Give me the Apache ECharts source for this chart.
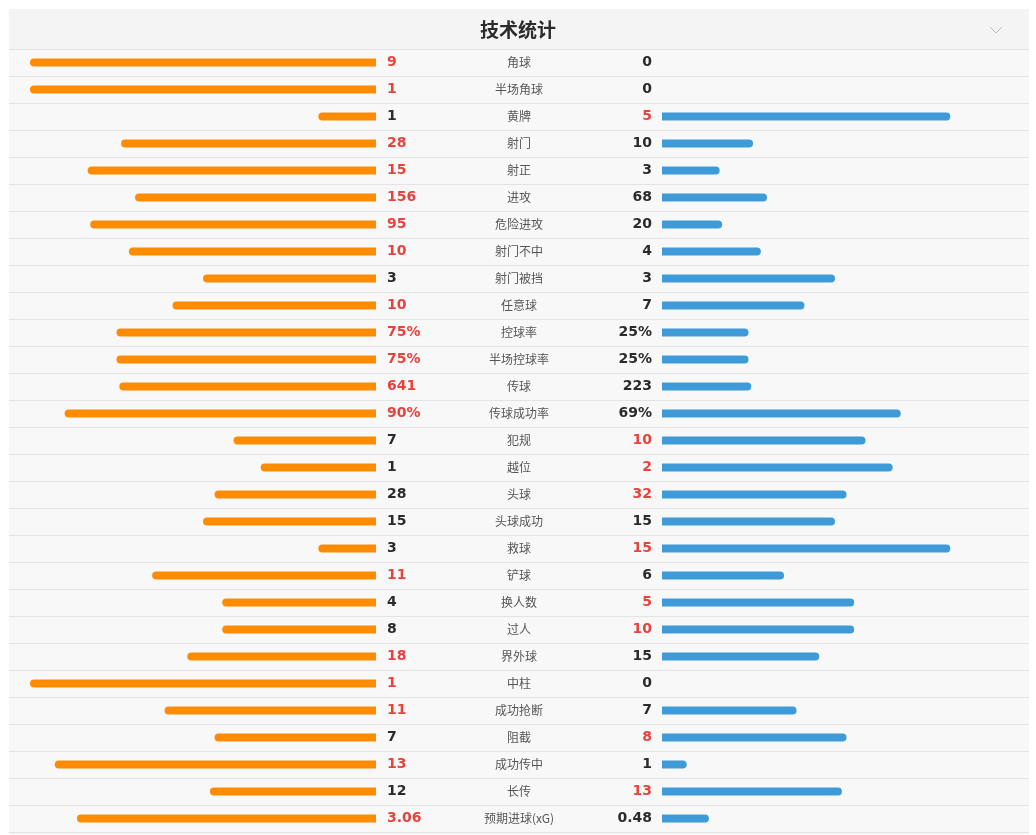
<!DOCTYPE html>
<html>
<head>
<meta charset="utf-8">
<script src="https://cdn.jsdelivr.net/npm/echarts@6/dist/echarts.min.js"></script>
<style>
  html, body { margin: 0; padding: 0; background: #fff; }
  #stats_chart { width: 1036px; height: 835px; }
</style>
</head>
<body>
<div id="stats_chart"></div>
<script>
///////////////////////////////////////////////////
// Match data
///////////////////////////////////////////////////
var statNames = ['角球', '半场角球', '黄牌', '射门', '射正', '进攻', '危险进攻', '射门不中', '射门被挡', '任意球',
  '控球率', '半场控球率', '传球', '传球成功率', '犯规', '越位', '头球', '头球成功', '救球', '铲球',
  '换人数', '过人', '界外球', '中柱', '成功抢断', '阻截', '成功传中', '长传', '预期进球(xG)'];
var homeValues = [9, 1, 1, 28, 15, 156, 95, 10, 3, 10, 75, 75, 641, 90, 7, 1, 28, 15, 3, 11, 4, 8, 18, 1, 11, 7, 13, 12, 3.06];
var awayValues = [0, 0, 5, 10, 3, 68, 20, 4, 3, 7, 25, 25, 223, 69, 10, 2, 32, 15, 15, 6, 5, 10, 15, 0, 7, 8, 1, 13, 0.48];
// rows whose values are already percentages
var percentStats = ['控球率', '半场控球率', '传球成功率'];

///////////////////////////////////////////////////
// Derived bar shares
///////////////////////////////////////////////////
function isPercent(i) { return percentStats.indexOf(statNames[i]) >= 0; }
function share(i, side) {
  var h = homeValues[i], a = awayValues[i];
  var v = side === 'home' ? h : a;
  if (isPercent(i)) return v / 100;
  return h + a === 0 ? 0 : v / (h + a);
}
function fmt(i, v) { return isPercent(i) ? v + '%' : String(v); }

var homeShare = statNames.map(function (n, i) { return share(i, 'home'); });
var awayShare = statNames.map(function (n, i) { return share(i, 'away'); });

var RED = '#e8423c', DARK = '#2b2b2b';
function valueColor(i, side) {
  var h = homeValues[i], a = awayValues[i];
  if (h === a) return DARK;
  if (side === 'home') return h > a ? RED : DARK;
  return a > h ? RED : DARK;
}

var gridTop = 49, gridHeight = 783;
var idx = statNames.map(function (n, i) { return String(i); });

var option = {
  backgroundColor: '#ffffff',
  animation: false,
  title: {
    text: '技术统计',
    left: 'center',
    top: 15,
    textStyle: { fontSize: 19, fontWeight: 'bold', color: '#2b2b2b', fontFamily: 'Noto Sans CJK SC' }
  },
  graphic: [
    { type: 'rect', z: -10, shape: { x: 9, y: 9, width: 1020, height: 826 }, style: { fill: '#f8f8f8' } },
    { type: 'rect', z: -9, shape: { x: 9, y: 9, width: 1020, height: 40 }, style: { fill: '#f4f4f4' } },
    { type: 'polyline', z: 5, shape: { points: [[990, 27], [996, 33], [1002, 27]] },
      style: { stroke: '#bbbbbb', lineWidth: 1, fill: null } }
  ],
  grid: [
    // full-width grid: row separators and centred stat names
    { left: 9, width: 1020, top: gridTop, height: gridHeight },
    // home bars
    { left: 30, width: 346, top: gridTop, height: gridHeight },
    // away bars
    { left: 662, width: 346, top: gridTop, height: gridHeight }
  ],
  xAxis: [
    { gridIndex: 0, type: 'value', min: 0, max: 1, show: false },
    { gridIndex: 1, type: 'value', min: 0, max: 1, inverse: true, show: false },
    { gridIndex: 2, type: 'value', min: 0, max: 1, show: false }
  ],
  yAxis: [
    {
      gridIndex: 0, type: 'category', data: idx, inverse: true,
      axisLine: { show: false }, axisTick: { show: false },
      splitLine: { show: true, lineStyle: { color: '#e3e3e3', width: 1 } },
      axisLabel: {
        inside: true, margin: 510, align: 'center',
        fontSize: 12, color: '#555555', fontFamily: 'Noto Sans CJK SC',
        padding: [2, 0, 0, 0],
        formatter: function (v) { return statNames[+v]; }
      }
    },
    {
      gridIndex: 1, type: 'category', data: idx, inverse: true, position: 'right',
      axisLine: { show: false }, axisTick: { show: false }, splitLine: { show: false },
      axisLabel: {
        margin: 11, fontSize: 14, fontWeight: 'bold', fontFamily: 'DejaVu Sans',
        padding: [2, 0, 0, 0],
        color: function (v, i) { return valueColor(+v, 'home'); },
        formatter: function (v) { return fmt(+v, homeValues[+v]); }
      }
    },
    {
      gridIndex: 2, type: 'category', data: idx, inverse: true, position: 'left',
      axisLine: { show: false }, axisTick: { show: false }, splitLine: { show: false },
      axisLabel: {
        margin: 10, fontSize: 14, fontWeight: 'bold', fontFamily: 'DejaVu Sans',
        padding: [2, 0, 0, 0],
        color: function (v, i) { return valueColor(+v, 'away'); },
        formatter: function (v) { return fmt(+v, awayValues[+v]); }
      }
    }
  ],
  series: [
    {
      type: 'bar', xAxisIndex: 1, yAxisIndex: 1, data: homeShare,
      barWidth: 8, silent: true,
      itemStyle: { color: '#ff8c00', borderRadius: [4, 0, 0, 4] }
    },
    {
      type: 'bar', xAxisIndex: 2, yAxisIndex: 2, data: awayShare,
      barWidth: 8, silent: true,
      itemStyle: { color: '#3e9bd8', borderRadius: [0, 4, 4, 0] }
    }
  ]
};

var chart = echarts.init(document.getElementById('stats_chart'), null, { renderer: 'canvas' });
chart.setOption(option);
</script>
</body>
</html>
